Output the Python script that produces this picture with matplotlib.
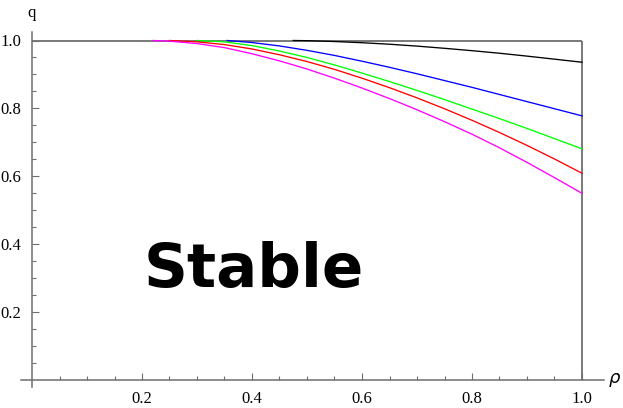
import numpy as np
import matplotlib
matplotlib.use('Agg')
import matplotlib.pyplot as plt

# curves: rho values and q values per colour
rho_magenta = [0.22, 0.25, 0.30, 0.35, 0.40, 0.45, 0.50, 0.55, 0.60, 0.65, 0.70, 0.75, 0.80, 0.85, 0.90, 0.95, 1.00]
q_magenta = [1.0, 0.998, 0.991, 0.979, 0.961, 0.940, 0.916, 0.889, 0.860, 0.829, 0.796, 0.761, 0.724, 0.684, 0.641, 0.596, 0.550]

rho_red = [0.25, 0.30, 0.35, 0.40, 0.45, 0.50, 0.55, 0.60, 0.65, 0.70, 0.75, 0.80, 0.85, 0.90, 0.95, 1.00]
q_red = [1.0, 0.996, 0.988, 0.975, 0.958, 0.938, 0.915, 0.889, 0.861, 0.831, 0.799, 0.765, 0.729, 0.691, 0.651, 0.609]

rho_green = [0.30, 0.35, 0.40, 0.45, 0.50, 0.55, 0.60, 0.65, 0.70, 0.75, 0.80, 0.85, 0.90, 0.95, 1.00]
q_green = [1.0, 0.996, 0.985, 0.969, 0.950, 0.928, 0.904, 0.879, 0.853, 0.826, 0.798, 0.770, 0.741, 0.711, 0.681]

rho_blue = [0.355, 0.40, 0.45, 0.50, 0.55, 0.60, 0.65, 0.70, 0.75, 0.80, 0.85, 0.90, 0.95, 1.00]
q_blue = [1.0, 0.994, 0.984, 0.971, 0.956, 0.939, 0.921, 0.902, 0.882, 0.862, 0.841, 0.820, 0.799, 0.778]

rho_black = [0.475, 0.50, 0.55, 0.60, 0.65, 0.70, 0.75, 0.80, 0.85, 0.90, 0.95, 1.00]
q_black = [1.0, 0.9995, 0.997, 0.9935, 0.989, 0.9835, 0.977, 0.970, 0.9625, 0.954, 0.945, 0.936]

major_ticks = [0.2, 0.4, 0.6, 0.8, 1.0]
tick_labels = ['0.2', '0.4', '0.6', '0.8', '1.0']

W, H = 623, 408
fig = plt.figure(figsize=(W/100, H/100), dpi=100)
# axes placed so that data (0,0) sits at pixel (32,380) and (1,1) at (582,40.5)
x0, x1 = -0.02, 1.04
y0, y1 = -0.02, 1.025
px_x, px_y = 550.0, 339.5
left = 32 + x0*px_x
bottom = H - (380 - y0*px_y)
ax = fig.add_axes([left/W, bottom/H, (x1-x0)*px_x/W, (y1-y0)*px_y/H])
ax.set_xlim(x0, x1)
ax.set_ylim(y0, y1)

gray = '#6e6e6e'
for s in ['top', 'right']:
    ax.spines[s].set_visible(False)
for s in ['left', 'bottom']:
    ax.spines[s].set_position(('data', 0))
    ax.spines[s].set_color(gray)
    ax.spines[s].set_linewidth(1.1)

# box of the region (top and right edges)
ax.plot([0, 1], [1, 1], color=gray, lw=1.3, solid_capstyle='butt')
ax.plot([1, 1], [0, 1], color=gray, lw=1.3, solid_capstyle='butt')

lw = 0.95
ax.plot(rho_black, q_black, color='black', lw=lw)
ax.plot(rho_blue, q_blue, color='#0000ff', lw=lw)
ax.plot(rho_green, q_green, color='#00ff00', lw=lw)
ax.plot(rho_red, q_red, color='#ff0000', lw=lw)
ax.plot(rho_magenta, q_magenta, color='#ff00ff', lw=lw)

ax.set_xticks(major_ticks)
ax.set_xticklabels(tick_labels)
ax.set_yticks(major_ticks)
ax.set_yticklabels(tick_labels)
ax.set_xticks(np.arange(0.05, 1.0, 0.05), minor=True)
ax.set_yticks(np.arange(0.05, 1.0, 0.05), minor=True)
for a in ['x', 'y']:
    ax.tick_params(axis=a, which='major', direction='in', length=5, width=0.8,
                   color=gray, labelsize=12, pad=8)
    ax.tick_params(axis=a, which='minor', direction='in', length=3, width=0.8, color=gray)
for lab in ax.get_xticklabels() + ax.get_yticklabels():
    lab.set_family('Liberation Serif')

ax.text(0.0, 1.081, 'q', ha='center', va='center', fontsize=12,
        family='Liberation Serif', clip_on=False)
ax.text(1.06, 0.0, r'$\rho$', ha='center', va='center', fontsize=13, clip_on=False)

ax.text(0.404, 0.274, 'Stable', ha='center', va='baseline', fontsize=44,
        fontweight='bold', family='DejaVu Sans')

fig.savefig('out.png', dpi=100)
